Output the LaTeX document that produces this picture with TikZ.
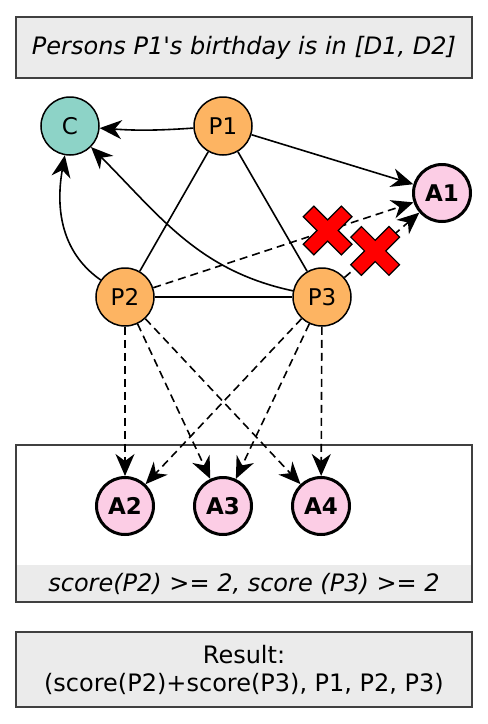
\documentclass[tikz,border=0pt]{standalone}
\usepackage{fontspec}
\setmainfont{DejaVu Sans}
\usetikzlibrary{positioning,arrows.meta}

\definecolor{cteal}{HTML}{8DD3C7}
\definecolor{porange}{HTML}{FDB462}
\definecolor{apink}{HTML}{FCCDE5}
\definecolor{boxgray}{HTML}{EBEBEB}
\definecolor{boxline}{HTML}{404040}

\begin{document}
\begin{tikzpicture}[x=1pt, y=1pt, on grid,
	font=\fontsize{23}{28}\selectfont,
	>={Stealth[length=22pt, width=19pt, inset=7pt]},
	person/.style={circle, draw, line width=1.5pt, fill=porange, minimum size=58pt, inner sep=0pt},
	city/.style={person, fill=cteal},
	answer/.style={circle, draw, line width=3pt, fill=apink, minimum size=57pt, inner sep=0pt, font=\fontsize{23}{28}\selectfont\bfseries},
	panel/.style={draw=boxline, line width=1.5pt, minimum width=456pt, inner sep=0pt, font=\fontsize{24}{28}\selectfont},
	link/.style={line width=1.6pt},
	maybe/.style={link, dash pattern=on 8pt off 5pt},
	nope/.pic={\draw[fill=red, line width=1.2pt, rotate=45]
		(7.5,7.5) -- (27,7.5) -- (27,-7.5) -- (7.5,-7.5) -- (7.5,-27) -- (-7.5,-27)
		-- (-7.5,-7.5) -- (-27,-7.5) -- (-27,7.5) -- (-7.5,7.5) -- (-7.5,27) -- (7.5,27) -- cycle;},
	]
	\useasboundingbox (0,0) rectangle (488,-724);

	% boxes
	\node [panel, fill=boxgray, minimum height=61pt, font=\fontsize{24}{28}\selectfont\itshape] (query) at (244,-47.5) {Persons P1\textquotesingle s birthday is in [D1, D2]};
	\node [fill=boxgray, minimum width=456pt, minimum height=37pt, inner sep=0pt, font=\fontsize{24}{28}\selectfont\itshape] (cond) at (244,-583.5) {score(P2) >= 2, score (P3) >= 2};
	\node [panel, minimum height=157pt] (zone) at (244,-523.5) {};
	\node [panel, fill=boxgray, minimum height=75pt, align=center] (result) at (244,-669.5) {Result:\\(score(P2)+score(P3), P1, P2, P3)};

	% graph
	\node [person] (p1) at (223,-126) {P1};
	\node [city, left = 153pt of p1] (c) {C};
	\node [person, below left = 171pt and 98pt of p1] (p2) {P2};
	\node [person, right = 197pt of p2] (p3) {P3};
	\node [answer, below right = 67pt and 219pt of p1] (a1) {A1};
	\node [answer, below = 209pt of p2] (a2) {A2};
	\node [answer, right = 98pt of a2] (a3) {A3};
	\node [answer, right = 98pt of a3] (a4) {A4};

	\draw [link, ->] (p1) to [bend left=4] (c);
	\draw [link, ->] (p2) to [out=145, in=-100] (c);
	\draw [link, ->] (p3) to [out=168, in=-45] (c);
	\draw [link, ->] (p1) -- (a1);
	\draw [link] (p1) -- (p2);
	\draw [link] (p1) -- (p3);
	\draw [link] (p2) -- (p3);
	\draw [maybe, ->] (p2) -- (a1);
	\draw [maybe, ->] (p3) -- (a1);
	\foreach \from in {p2, p3}
		\foreach \to in {a2, a3, a4}
			\draw [maybe, ->] (\from) -- (\to);

	% rejected links
	\path (p2) -- (a1) pic [pos=.67] {nope};
	\path (p3) -- (a1) pic [pos=.41] {nope};
\end{tikzpicture}
\end{document}
